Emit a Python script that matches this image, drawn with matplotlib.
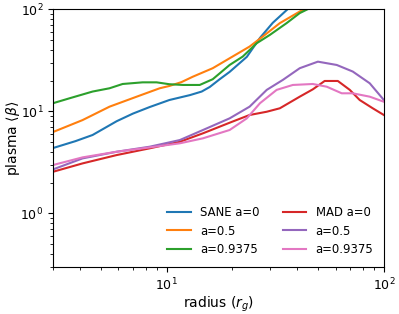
import matplotlib
matplotlib.use("Agg")
import matplotlib.pyplot as plt

# SANE runs
sane_a0_r = [3.0, 3.8, 4.56, 5.89, 7.0, 8.35, 10.3, 12.8, 14.5, 15.8, 17.5, 19.5, 23.4,
             26.9, 30.8, 36.1]
sane_a0_b = [4.37, 5.1, 5.86, 8.0, 9.5, 11.0, 12.9, 14.4, 15.6, 17.3, 20.5, 24.3, 34.1,
             52.3, 73.4, 100]

sane_a05_r = [3.0, 4.1, 5.46, 7.28, 9.29, 10.3, 11.7, 13.2, 16.3, 20.1, 24.1, 27.7,
              33.2, 41.0, 43.0]
sane_a05_b = [6.27, 8.2, 11.1, 13.9, 16.8, 17.7, 19.3, 21.8, 26.4, 34.3, 43.0, 53.9,
              72.9, 94.7, 100]

sane_a09_r = [3.0, 3.57, 4.56, 5.46, 6.27, 7.75, 8.99, 10.3, 11.9, 14.2, 16.3, 19.5,
              22.4, 26.0, 29.9, 35.7, 41.0, 44.7]
sane_a09_b = [12.0, 13.4, 15.6, 16.8, 18.5, 19.2, 19.2, 18.4, 18.1, 18.1, 20.6, 28.4,
              34.3, 46.4, 56.0, 73.0, 91.4, 100]

# MAD runs
mad_a0_r = [3.0, 4.1, 5.89, 8.35, 11.5, 14.7, 19.5, 24.1, 28.9, 33.2, 41.0, 47.1,
            53.4, 61.4, 69.7, 77.4, 88.9, 100]
mad_a0_b = [2.56, 3.09, 3.73, 4.34, 5.03, 6.09, 7.73, 9.2, 9.9, 10.7, 13.9, 16.4,
            19.8, 19.8, 16.2, 12.9, 10.7, 9.2]

mad_a05_r = [3.0, 4.1, 5.89, 8.35, 11.5, 14.7, 19.5, 24.1, 28.9, 34.3, 41.0, 49.7,
             60.7, 71.9, 86.1, 100]
mad_a05_b = [2.70, 3.46, 4.02, 4.50, 5.23, 6.56, 8.53, 11.1, 16.2, 20.3, 26.4, 30.6,
             28.4, 24.5, 18.8, 12.9]

mad_a09_r = [3.0, 4.1, 5.89, 8.35, 11.5, 14.7, 19.5, 23.4, 26.9, 32.1, 38.1, 47.1,
             54.6, 64.0, 71.9, 86.1, 100]
mad_a09_b = [2.98, 3.54, 4.02, 4.43, 4.86, 5.44, 6.56, 8.53, 12.0, 16.2, 18.1, 18.5,
             17.4, 15.0, 15.0, 13.9, 12.4]

fig = plt.figure(figsize=(3.99, 3.14), dpi=100)
ax = fig.add_axes([0.133, 0.150, 0.829, 0.821])

ax.plot(sane_a0_r, sane_a0_b, color="C0", label="SANE a=0")
ax.plot(sane_a05_r, sane_a05_b, color="C1", label="a=0.5")
ax.plot(sane_a09_r, sane_a09_b, color="C2", label="a=0.9375")
ax.plot(mad_a0_r, mad_a0_b, color="C3", label="MAD a=0")
ax.plot(mad_a05_r, mad_a05_b, color="C4", label="a=0.5")
ax.plot(mad_a09_r, mad_a09_b, color="C6", label="a=0.9375")

ax.set_xscale("log")
ax.set_yscale("log")
ax.set_xlim(3, 100)
ax.set_ylim(0.3, 100)
ax.set_xlabel(r"radius ($r_g$)", fontsize=10, labelpad=1)
ax.set_ylabel(r"plasma $\langle\beta\rangle$", fontsize=10, labelpad=-1)
ax.tick_params(labelsize=9)
ax.legend(ncol=2, loc="lower right", frameon=False, fontsize=8.4)

fig.savefig("out.png", dpi=100)
